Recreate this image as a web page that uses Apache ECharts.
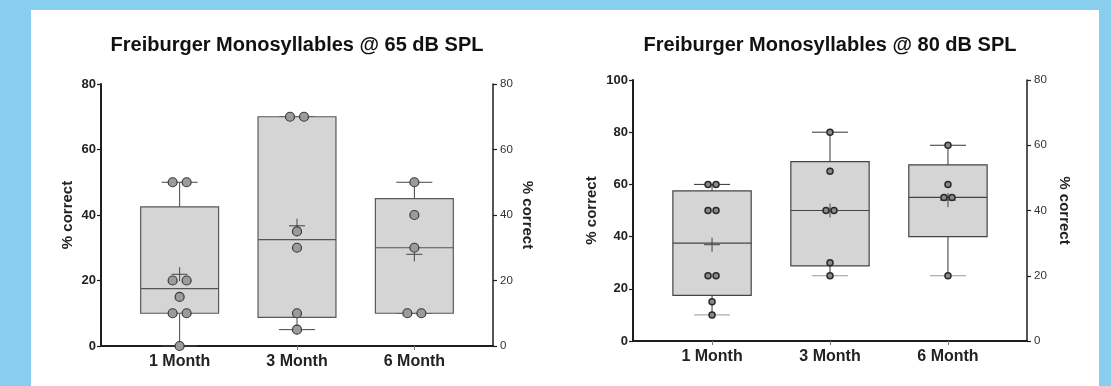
<!DOCTYPE html>
<html>
<head>
<meta charset="utf-8">
<script src="https://cdn.jsdelivr.net/npm/echarts@6/dist/echarts.min.js"></script>
<style>
html,body{margin:0;padding:0;background:#88CEEF;}
#panel{position:absolute;left:31px;top:10px;width:1068px;height:376px;background:#ffffff;}
#chart{position:absolute;left:0;top:0;width:1111px;height:386px;}
</style>
</head>
<body>
<div id="panel"></div>
<div id="chart"></div>
<script>
const categories = ['1 Month', '3 Month', '6 Month'];
const titles = ['Freiburger Monosyllables @ 65 dB SPL', 'Freiburger Monosyllables @ 80 dB SPL'];
const yName = '% correct';

// 65 dB SPL
const points65 = [[50, 50, 20, 20, 15, 10, 10, 0], [70, 70, 35, 30, 10, 5], [50, 40, 30, 10, 10]];
const q1_65 = [10, 8.75, 10];
const median65 = [17.5, 32.5, 30];
const q3_65 = [42.5, 70, 45];
const min65 = [0, 5, 10];
const max65 = [50, 70, 50];
const mean65 = [21.9, 36.7, 28];

// 80 dB SPL
const points80 = [[60, 60, 50, 50, 25, 25, 15, 10], [80, 65, 50, 50, 30, 25], [75, 60, 55, 55, 25]];
const q1_80 = [17.5, 28.75, 40];
const median80 = [37.5, 50, 55];
const q3_80 = [57.5, 68.75, 67.5];
const min80 = [10, 25, 25];
const max80 = [60, 80, 75];
const mean80 = [36.9, 50, 54];

const leftTicks65 = [0, 20, 40, 60, 80];
const font = 'Liberation Sans, Arial, Helvetica, sans-serif';

function boxData(q1, med, q3, mn, mx, mean) {
  return categories.map((c, i) => [i + 1, q1[i], med[i], q3[i], mn[i], mx[i], mean[i]]);
}

function pointData(pts, jitter) {
  const out = [];
  pts.forEach((arr, i) => {
    const seen = {};
    arr.forEach(v => {
      const count = arr.filter(w => w === v).length;
      seen[v] = (seen[v] || 0) + 1;
      let dx = 0;
      if (count === 2) dx = seen[v] === 1 ? -jitter : jitter;
      out.push({ value: [i + 1, v], symbolOffset: [dx, 0] });
    });
  });
  return out;
}

function makeBoxRender(opts) {
  return function (params, api) {
    const x = api.value(0);
    const q1 = api.coord([x, api.value(1)]);
    const med = api.coord([x, api.value(2)]);
    const q3 = api.coord([x, api.value(3)]);
    const mn = api.coord([x, api.value(4)]);
    const mx = api.coord([x, api.value(5)]);
    const mean = api.coord([x, api.value(6)]);
    const band = api.size([1, 0])[0];
    const hw = band * 0.332;
    const cap = 18;
    const cx = q1[0];
    const line = (x1, y1, x2, y2, color, w) => ({
      type: 'line', shape: { x1, y1, x2, y2 },
      style: { stroke: color, lineWidth: w || 1 }
    });
    const children = [
      line(cx, q3[1], cx, mx[1], opts.whisker, 1),
      line(cx, q1[1], cx, mn[1], opts.whisker, 1),
      line(cx - cap, mx[1], cx + cap, mx[1], opts.whisker, 1),
      line(cx - cap, mn[1], cx + cap, mn[1], opts.lowCap, 1),
      {
        type: 'rect',
        shape: { x: cx - hw, y: q3[1], width: hw * 2, height: q1[1] - q3[1] },
        style: { fill: '#d5d5d5', stroke: opts.boxStroke, lineWidth: 1.2 }
      },
      line(cx - hw, med[1], cx + hw, med[1], opts.median, 1.2),
      line(cx - 8, mean[1], cx + 8, mean[1], '#444', 1),
      line(cx, mean[1] - 7, cx, mean[1] + 7, '#444', 1)
    ];
    return { type: 'group', children };
  };
}

function xAxis(gridIndex) {
  return {
    type: 'value', gridIndex, min: 0.33, max: 3.67,
    splitLine: { show: false },
    axisLine: { show: true, onZero: false, lineStyle: { color: '#1e1e1e', width: 2 } },
    axisTick: { show: true, customValues: [1, 2, 3], length: 4, lineStyle: { color: '#777', width: 1 } },
    axisLabel: {
      customValues: [1, 2, 3], margin: 8,
      formatter: v => categories[Math.round(v) - 1] || '',
      fontFamily: font, fontSize: 16, fontWeight: 'bold', color: '#222'
    }
  };
}

function yAxis(gridIndex, position, max, opts) {
  const left = position === 'left';
  return {
    type: 'value', gridIndex, position, min: 0, max, interval: 20,
    name: yName, nameLocation: 'middle', nameRotate: left ? 90 : -90, nameGap: opts.nameGap,
    nameTextStyle: { fontFamily: font, fontSize: 15, fontWeight: 'bold', color: '#222' },
    splitLine: { show: false },
    axisLine: { show: true, onZero: false, lineStyle: { color: '#1e1e1e', width: left ? 2 : 1.5 } },
    axisTick: { show: true, inside: false, length: 4, lineStyle: { color: '#1e1e1e', width: 1.2 } },
    axisLabel: {
      margin: left ? 5 : 7, fontFamily: font,
      fontSize: left ? 13 : 11.5, fontWeight: left ? 'bold' : 'normal',
      color: left ? '#222' : '#333'
    }
  };
}

const chart = echarts.init(document.getElementById('chart'), null, { renderer: 'canvas' });
chart.setOption({
  animation: false,
  backgroundColor: 'transparent',
  title: [
    { text: titles[0], left: 297, top: 35, textAlign: 'center', padding: 0,
      textStyle: { fontFamily: font, fontSize: 20, fontWeight: 'bold', color: '#111' } },
    { text: titles[1], left: 830, top: 35, textAlign: 'center', padding: 0,
      textStyle: { fontFamily: font, fontSize: 20, fontWeight: 'bold', color: '#111' } }
  ],
  grid: [
    { left: 101, right: 618, top: 84, bottom: 40 },
    { left: 633, right: 84, top: 80, bottom: 45 }
  ],
  xAxis: [xAxis(0), xAxis(1)],
  yAxis: [
    yAxis(0, 'left', 80, { nameGap: 26 }),
    yAxis(0, 'right', 80, { nameGap: 27 }),
    yAxis(1, 'left', 100, { nameGap: 34 }),
    yAxis(1, 'right', 80, { nameGap: 30 })
  ],
  series: [
    {
      type: 'custom', xAxisIndex: 0, yAxisIndex: 0, z: 2,
      renderItem: makeBoxRender({ whisker: '#444', lowCap: '#444', boxStroke: '#5a5a5a', median: '#555' }),
      data: boxData(q1_65, median65, q3_65, min65, max65, mean65)
    },
    {
      type: 'scatter', xAxisIndex: 0, yAxisIndex: 0, z: 5,
      symbol: 'circle', symbolSize: 9,
      itemStyle: { color: '#9b9b9b', borderColor: '#3a3a3a', borderWidth: 1.2, opacity: 1 },
      data: pointData(points65, 7)
    },
    {
      type: 'custom', xAxisIndex: 1, yAxisIndex: 2, z: 2,
      renderItem: makeBoxRender({ whisker: '#333', lowCap: '#9a9a9a', boxStroke: '#444', median: '#444' }),
      data: boxData(q1_80, median80, q3_80, min80, max80, mean80)
    },
    {
      type: 'scatter', xAxisIndex: 1, yAxisIndex: 2, z: 5,
      symbol: 'circle', symbolSize: 6,
      itemStyle: { color: '#8a8a8a', borderColor: '#2a2a2a', borderWidth: 1.5, opacity: 1 },
      data: pointData(points80, 4)
    }
  ]
});
</script>
</body>
</html>
